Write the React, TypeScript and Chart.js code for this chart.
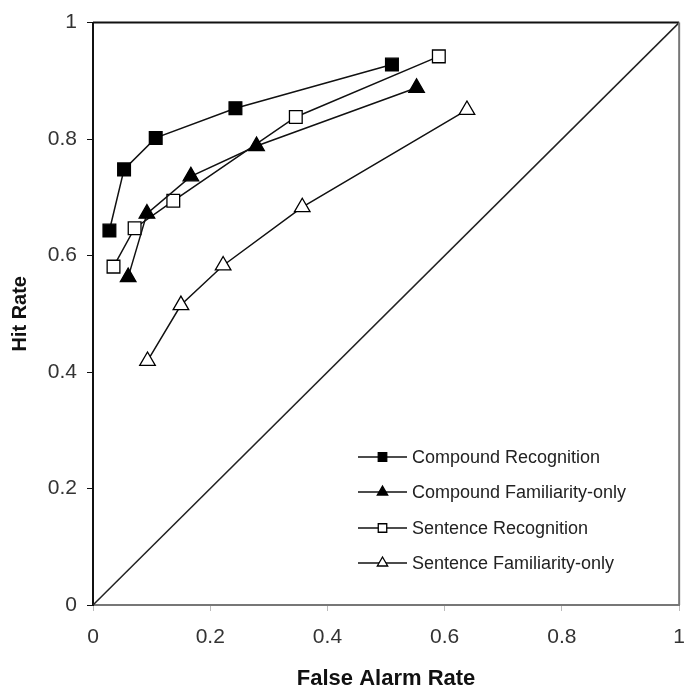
import React, { useEffect, useRef } from 'react';
import { Chart, registerables } from 'chart.js';
import { drawPoint } from 'chart.js/helpers';

Chart.register(...registerables);

const seriesNames = [
  'Compound Recognition',
  'Compound Familiarity-only',
  'Sentence Recognition',
  'Sentence Familiarity-only',
];

const compoundRecogFA = [0.028, 0.053, 0.107, 0.243, 0.51];
const compoundRecogHit = [0.643, 0.748, 0.802, 0.853, 0.928];

const compoundFamFA = [0.06, 0.092, 0.167, 0.279, 0.552];
const compoundFamHit = [0.563, 0.672, 0.736, 0.788, 0.888];

const sentenceRecogFA = [0.035, 0.071, 0.137, 0.346, 0.59];
const sentenceRecogHit = [0.581, 0.647, 0.694, 0.838, 0.942];

const sentenceFamFA = [0.093, 0.15, 0.222, 0.357, 0.638];
const sentenceFamHit = [0.419, 0.515, 0.583, 0.683, 0.85];

const chanceFA = [0, 1];
const chanceHit = [0, 1];

const tickValues = [0, 0.2, 0.4, 0.6, 0.8, 1];

const FONT = "'Liberation Sans', Arial, Helvetica, sans-serif";

const pts = (xs: number[], ys: number[]) => xs.map((x, i) => ({ x, y: ys[i] }));

const markerStyles = [
  { pointStyle: 'rect', fill: '#000000' },
  { pointStyle: 'triangle', fill: '#000000' },
  { pointStyle: 'rect', fill: '#ffffff' },
  { pointStyle: 'triangle', fill: '#ffffff' },
];

const fmt = (v: number) => (v === 0 ? '0' : v === 1 ? '1' : v.toFixed(1));

const legendPlugin = {
  id: 'customLegend',
  afterDatasetsDraw(chart: any) {
    const { ctx, chartArea } = chart;
    const lx0 = chartArea.left + 265;
    const lx1 = chartArea.left + 314;
    const tx = chartArea.left + 319;
    const rows = [457, 492, 528, 563];
    ctx.save();
    seriesNames.forEach((name, i) => {
      const y = rows[i];
      const ds = chart.data.datasets[i];
      ctx.strokeStyle = '#111';
      ctx.lineWidth = 1.5;
      ctx.beginPath();
      ctx.moveTo(lx0, y);
      ctx.lineTo(lx1, y);
      ctx.stroke();
      ctx.fillStyle = ds.pointBackgroundColor;
      ctx.strokeStyle = '#000';
      ctx.lineWidth = 1.3;
      drawPoint(ctx, { pointStyle: ds.pointStyle, radius: 6, rotation: 0, borderWidth: 1.3 } as any, (lx0 + lx1) / 2, y);
      ctx.fillStyle = '#222';
      ctx.font = `18px ${FONT}`;
      ctx.textBaseline = 'middle';
      ctx.textAlign = 'left';
      ctx.fillText(name, tx, y + 1);
    });
    ctx.restore();
  },
};

const framePlugin = {
  id: 'frame',
  afterDraw(chart: any) {
    const { ctx, chartArea } = chart;
    ctx.save();
    ctx.lineWidth = 2;
    ctx.strokeStyle = '#111';
    ctx.beginPath();
    ctx.moveTo(chartArea.left, chartArea.top);
    ctx.lineTo(chartArea.right, chartArea.top);
    ctx.stroke();
    ctx.strokeStyle = '#777';
    ctx.beginPath();
    ctx.moveTo(chartArea.right, chartArea.top);
    ctx.lineTo(chartArea.right, chartArea.bottom);
    ctx.stroke();
    ctx.restore();
  },
};

export default function App() {
  const ref = useRef<HTMLCanvasElement | null>(null);

  useEffect(() => {
    if (!ref.current) return;
    const series = [
      pts(compoundRecogFA, compoundRecogHit),
      pts(compoundFamFA, compoundFamHit),
      pts(sentenceRecogFA, sentenceRecogHit),
      pts(sentenceFamFA, sentenceFamHit),
    ];
    const datasets: any[] = series.map((data, i) => ({
      label: seriesNames[i],
      data,
      showLine: true,
      borderColor: '#111',
      borderWidth: 1.5,
      pointStyle: markerStyles[i].pointStyle,
      pointBackgroundColor: markerStyles[i].fill,
      pointBorderColor: '#000',
      pointBorderWidth: 1.3,
      pointRadius: 9,
      pointRotation: 0,
    }));
    datasets.push({
      label: 'chance',
      data: pts(chanceFA, chanceHit),
      showLine: true,
      borderColor: '#222',
      borderWidth: 1.5,
      pointRadius: 0,
    });

    const chart = new Chart(ref.current, {
      type: 'scatter',
      data: { datasets },
      options: {
        responsive: false,
        animation: false,
        devicePixelRatio: 1,
        layout: { padding: { top: 22, right: 16, left: 0, bottom: 0 } },
        plugins: {
          legend: { display: false },
          tooltip: { enabled: false },
        },
        scales: {
          x: {
            type: 'linear',
            min: 0,
            max: 1,
            afterFit: (s: any) => {
              s.height = 82;
            },
            afterBuildTicks: (s: any) => {
              s.ticks = tickValues.map((v) => ({ value: v }));
            },
            ticks: {
              callback: (v: any) => fmt(Number(v)),
              font: { family: FONT, size: 21 },
              color: '#333',
              padding: 14,
            },
            grid: {
              display: true,
              drawOnChartArea: false,
              drawTicks: true,
              tickLength: 6,
              color: '#bbb',
            },
            border: { display: true, color: '#777', width: 2 },
            title: {
              display: true,
              text: 'False Alarm Rate',
              font: { family: FONT, size: 22, weight: 'bold', lineHeight: 1 },
              color: '#111',
              padding: { top: 0, bottom: -3 },
            },
          },
          y: {
            type: 'linear',
            min: 0,
            max: 1,
            afterFit: (s: any) => {
              s.width = 93;
            },
            afterBuildTicks: (s: any) => {
              s.ticks = tickValues.map((v) => ({ value: v }));
            },
            ticks: {
              callback: (v: any) => fmt(Number(v)),
              font: { family: FONT, size: 21 },
              color: '#333',
              padding: 10,
            },
            grid: {
              display: true,
              drawOnChartArea: false,
              drawTicks: true,
              tickLength: 6,
              color: '#111',
            },
            border: { display: true, color: '#111', width: 2 },
            title: {
              display: true,
              text: 'Hit Rate',
              font: { family: FONT, size: 20, weight: 'bold', lineHeight: 1 },
              color: '#111',
              padding: { top: 10, bottom: 0 },
            },
          },
        },
      },
      plugins: [legendPlugin, framePlugin],
    });
    return () => chart.destroy();
  }, []);

  return (
    <div style={{ position: 'fixed', left: 0, top: 0, width: 699, height: 687, background: '#fff' }}>
      <canvas ref={ref} width={699} height={687} style={{ width: 699, height: 687, display: 'block' }} />
    </div>
  );
}
